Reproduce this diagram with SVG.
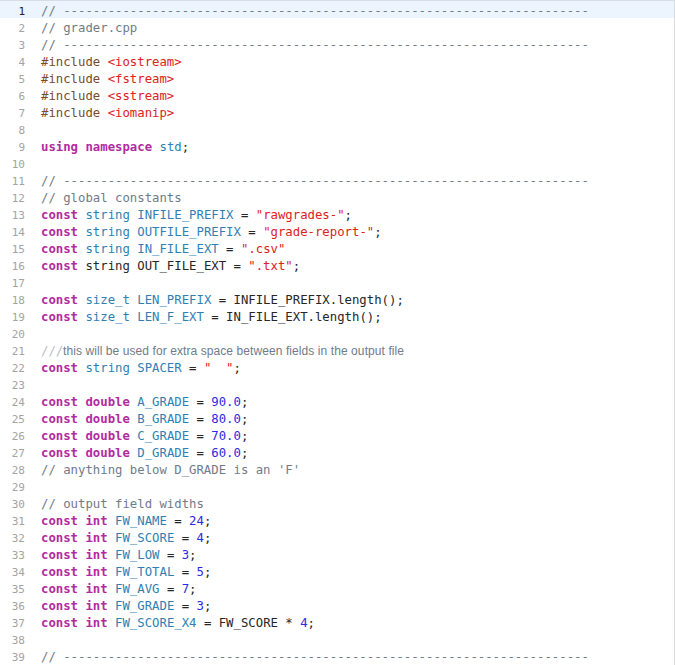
<svg xmlns="http://www.w3.org/2000/svg" width="675" height="665" viewBox="0 0 675 665">
<style>
.c{font-family:"DejaVu Sans Mono",monospace;font-size:12.3px;fill:#262626;white-space:pre}
.n{font-family:"DejaVu Sans Mono",monospace;font-size:11px;fill:#a3a3a3;text-anchor:end}
.k{fill:#b22aa1;font-weight:bold}
.t{fill:#2f7fb3}
.s{fill:#e0201b}
.m{fill:#2c2ae0}
.p{fill:#7a4b28}
.g{fill:#6f7c88}
</style>
<rect width="675" height="665" fill="#fff"/>
<rect x="0" y="1" width="675" height="17" fill="#ecf4fe"/>
<line x1="0" y1="0.5" x2="675" y2="0.5" stroke="#d8dde4"/>
<line x1="674.5" y1="0" x2="674.5" y2="665" stroke="#dcdcdc"/>
<g id="lineNumbers">
<text class="n" x="25" y="15" style="fill:#222">1</text>
<text class="n" x="25" y="32">2</text><text class="n" x="25" y="49">3</text><text class="n" x="25" y="66">4</text><text class="n" x="25" y="83">5</text><text class="n" x="25" y="100">6</text><text class="n" x="25" y="117">7</text><text class="n" x="25" y="134">8</text><text class="n" x="25" y="151">9</text><text class="n" x="25" y="168">10</text><text class="n" x="25" y="185">11</text><text class="n" x="25" y="202">12</text><text class="n" x="25" y="219">13</text><text class="n" x="25" y="236">14</text><text class="n" x="25" y="253">15</text><text class="n" x="25" y="270">16</text><text class="n" x="25" y="287">17</text><text class="n" x="25" y="304">18</text><text class="n" x="25" y="321">19</text><text class="n" x="25" y="338">20</text><text class="n" x="25" y="355">21</text><text class="n" x="25" y="372">22</text><text class="n" x="25" y="389">23</text><text class="n" x="25" y="406">24</text><text class="n" x="25" y="423">25</text><text class="n" x="25" y="440">26</text><text class="n" x="25" y="457">27</text><text class="n" x="25" y="474">28</text><text class="n" x="25" y="491">29</text><text class="n" x="25" y="508">30</text><text class="n" x="25" y="525">31</text><text class="n" x="25" y="542">32</text><text class="n" x="25" y="559">33</text><text class="n" x="25" y="576">34</text><text class="n" x="25" y="593">35</text><text class="n" x="25" y="610">36</text><text class="n" x="25" y="627">37</text><text class="n" x="25" y="644">38</text><text class="n" x="25" y="661">39</text>
</g>
<g id="code" xml:space="preserve">
<text class="c g" x="41" y="15">// -----------------------------------------------------------------------</text>
<text class="c g" x="41" y="32">// grader.cpp</text>
<text class="c g" x="41" y="49">// -----------------------------------------------------------------------</text>
<text class="c" x="41" y="66"><tspan class="p">#include </tspan><tspan class="s">&lt;iostream&gt;</tspan></text>
<text class="c" x="41" y="83"><tspan class="p">#include </tspan><tspan class="s">&lt;fstream&gt;</tspan></text>
<text class="c" x="41" y="100"><tspan class="p">#include </tspan><tspan class="s">&lt;sstream&gt;</tspan></text>
<text class="c" x="41" y="117"><tspan class="p">#include </tspan><tspan class="s">&lt;iomanip&gt;</tspan></text>
<text class="c" x="41" y="151"><tspan class="k">using</tspan> <tspan class="k">namespace</tspan> <tspan class="t">std</tspan>;</text>
<text class="c g" x="41" y="185">// -----------------------------------------------------------------------</text>
<text class="c g" x="41" y="202">// global constants</text>
<text class="c" x="41" y="219"><tspan class="k">const</tspan> <tspan class="t">string INFILE_PREFIX</tspan> = <tspan class="s">"rawgrades-"</tspan>;</text>
<text class="c" x="41" y="236"><tspan class="k">const</tspan> <tspan class="t">string OUTFILE_PREFIX</tspan> = <tspan class="s">"grade-report-"</tspan>;</text>
<text class="c" x="41" y="253"><tspan class="k">const</tspan> <tspan class="t">string IN_FILE_EXT</tspan> = <tspan class="s">".csv"</tspan></text>
<text class="c" x="41" y="270"><tspan class="k">const</tspan> string OUT_FILE_EXT = <tspan class="s">".txt"</tspan>;</text>
<text class="c" x="41" y="304"><tspan class="k">const</tspan> <tspan class="t">size_t LEN_PREFIX</tspan> = INFILE_PREFIX.length();</text>
<text class="c" x="41" y="321"><tspan class="k">const</tspan> <tspan class="t">size_t LEN_F_EXT</tspan> = IN_FILE_EXT.length();</text>
<text class="c" x="41" y="355" style="fill:#b8c0c8">///</text>
<text x="63" y="355" style="font-family:'Liberation Sans',sans-serif;font-size:12px;fill:#6f7c88" textLength="341">this will be used for extra space between fields in the output file</text>
<text class="c" x="41" y="372"><tspan class="k">const</tspan> <tspan class="t">string SPACER</tspan> = <tspan class="s">"  "</tspan>;</text>
<text class="c" x="41" y="406"><tspan class="k">const</tspan> <tspan class="k">double</tspan> <tspan class="t">A_GRADE</tspan> = <tspan class="m">90.0</tspan>;</text>
<text class="c" x="41" y="423"><tspan class="k">const</tspan> <tspan class="k">double</tspan> <tspan class="t">B_GRADE</tspan> = <tspan class="m">80.0</tspan>;</text>
<text class="c" x="41" y="440"><tspan class="k">const</tspan> <tspan class="k">double</tspan> <tspan class="t">C_GRADE</tspan> = <tspan class="m">70.0</tspan>;</text>
<text class="c" x="41" y="457"><tspan class="k">const</tspan> <tspan class="k">double</tspan> <tspan class="t">D_GRADE</tspan> = <tspan class="m">60.0</tspan>;</text>
<text class="c g" x="41" y="474">// anything below D_GRADE is an 'F'</text>
<text class="c g" x="41" y="508">// output field widths</text>
<text class="c" x="41" y="525"><tspan class="k">const</tspan> <tspan class="k">int</tspan> <tspan class="t">FW_NAME</tspan> = <tspan class="m">24</tspan>;</text>
<text class="c" x="41" y="542"><tspan class="k">const</tspan> <tspan class="k">int</tspan> <tspan class="t">FW_SCORE</tspan> = <tspan class="m">4</tspan>;</text>
<text class="c" x="41" y="559"><tspan class="k">const</tspan> <tspan class="k">int</tspan> <tspan class="t">FW_LOW</tspan> = <tspan class="m">3</tspan>;</text>
<text class="c" x="41" y="576"><tspan class="k">const</tspan> <tspan class="k">int</tspan> <tspan class="t">FW_TOTAL</tspan> = <tspan class="m">5</tspan>;</text>
<text class="c" x="41" y="593"><tspan class="k">const</tspan> <tspan class="k">int</tspan> <tspan class="t">FW_AVG</tspan> = <tspan class="m">7</tspan>;</text>
<text class="c" x="41" y="610"><tspan class="k">const</tspan> <tspan class="k">int</tspan> <tspan class="t">FW_GRADE</tspan> = <tspan class="m">3</tspan>;</text>
<text class="c" x="41" y="627"><tspan class="k">const</tspan> <tspan class="k">int</tspan> <tspan class="t">FW_SCORE_X4</tspan> = FW_SCORE * <tspan class="m">4</tspan>;</text>
<text class="c g" x="41" y="661">// -----------------------------------------------------------------------</text>
</g>
</svg>
